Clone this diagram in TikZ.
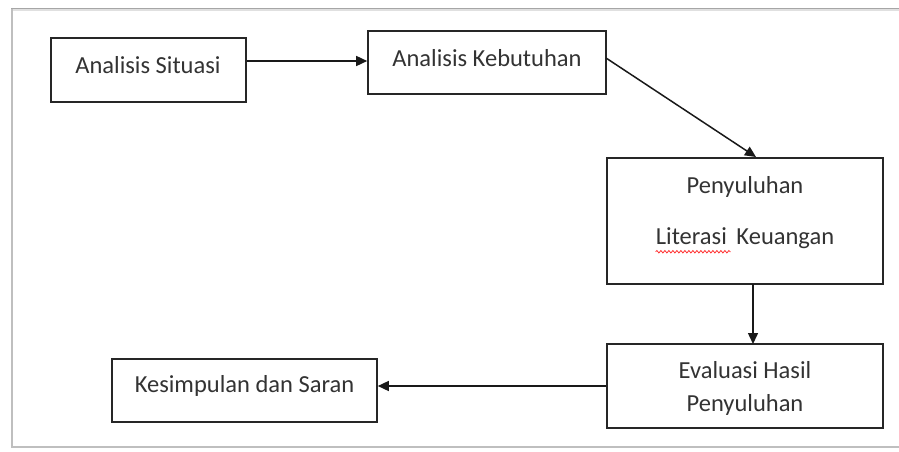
\documentclass[tikz,border=0pt]{standalone}
\usepackage{fontspec}
\setmainfont{Carlito}
\usetikzlibrary{arrows.meta,decorations.pathmorphing}
\tikzset{
  box/.style={draw=black!85, line width=1.6pt, inner sep=0pt},
  lbl/.style={font=\fontsize{24.5}{29}\selectfont, text=black!80, inner sep=0pt},
  conn/.style={draw=black!90, line width=1.5pt, -{Triangle[length=11pt,width=10pt]}},
}
\begin{document}
\begin{tikzpicture}[x=1pt,y=-1pt]
\useasboundingbox (0,0) rectangle (899,452);
\fill[white] (0,0) rectangle (899,452);
% outer frame with shadow
\draw[black!12, line width=3pt] (12.5,9.5) -- (899,9.5);
\draw[black!25, line width=2.5pt] (12,8) -- (12,447) -- (899,447);
\draw[black!35, line width=0.8pt] (11,8) -- (899,8);
% boxes
\node[box, minimum width=195pt, minimum height=64pt] (b1) at (148.5,70) {};
\node[box, minimum width=238pt, minimum height=63pt] (b2) at (487,62.5) {};
\node[box, minimum width=276pt, minimum height=126pt] (b3) at (745,221) {};
\node[box, minimum width=276pt, minimum height=84pt] (b4) at (745,386) {};
\node[box, minimum width=265pt, minimum height=63pt] (b5) at (244.5,390.5) {};
% texts
\node[lbl] (t1) at (148,65) {Analisis Situasi};
\node[lbl] (t2) at (487,58) {Analisis Kebutuhan};
\node[lbl] (t3a) at (745,187) {Penyuluhan};
\node[lbl] (t3b) at (745,238) {Literasi\, Keuangan};
\node[lbl] (t4a) at (745,370) {Evaluasi Hasil};
\node[lbl] (t4b) at (745,405) {Penyuluhan};
\node[lbl] (t5) at (244.5,386) {Kesimpulan dan Saran};
% spell-check underline
\draw[red!80, line width=0.8pt, decorate, decoration={snake, amplitude=1.2pt, segment length=4pt}] (t3b.south west) ++(0,3) -- ++(75,0);
% connectors
\draw[conn] (b1.east |- 0,61) -- (b2.west |- 0,61);
\coordinate (a2s) at (606,58);
\draw[conn] (a2s) -- (756,157);
\draw[conn] (753,284) -- (753,344);
\draw[conn] (b4.west |- 0,386) -- (b5.east |- 0,386);
\end{tikzpicture}
\end{document}
